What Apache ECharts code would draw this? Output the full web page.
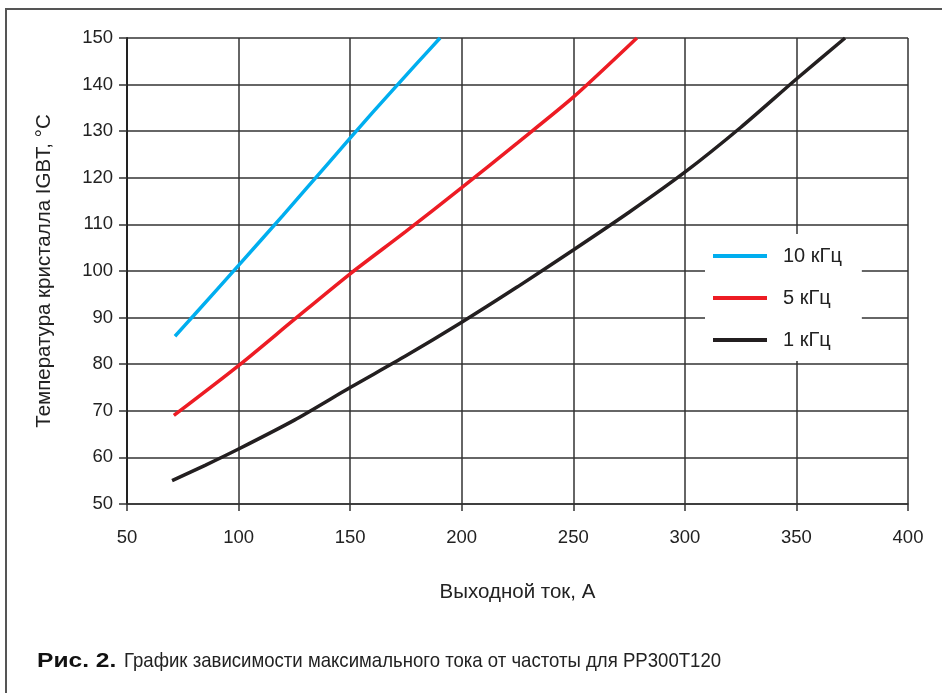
<!DOCTYPE html>
<html>
<head>
<meta charset="utf-8">
<script src="https://cdn.jsdelivr.net/npm/echarts@6/dist/echarts.min.js"></script>
<style>
html,body{margin:0;padding:0;background:#fff;}
#chart{width:942px;height:693px;}
</style>
</head>
<body>
<div id="chart"></div>
<script>
// Data
const seriesNames = ['10 кГц', '5 кГц', '1 кГц'];
const blue10kHz = [[71.5,86],[80,90.5],[100,101.2],[120,112],[140,123],[160,134],[180,144.6],[190.3,150]];
const red5kHz = [[71,69],[100,79.7],[125,89.6],[150,99.4],[175,108.5],[200,117.9],[225,127.5],[250,137.3],[278.5,150]];
const black1kHz = [[70.2,55],[85,58.3],[100,61.8],[125,68],[150,75],[175,81.8],[200,89],[225,96.6],[250,104.5],[275,112.6],[300,121.2],[325,130.8],[350,141.2],[371.8,150]];
const xTicks = {min:50, max:400, interval:50};
const yTicks = {min:50, max:150, interval:10};
const xTitle = 'Выходной ток, А';
const yTitle = 'Температура кристалла IGBT, °C';
const captionBold = 'Рис. 2.';
const captionText = 'График зависимости максимального тока от частоты для PP300T120';

const colors = ['#00aeef', '#ed1c24', '#231f20'];
const gridLine = {color:'#333', width:1.5};
const chart = echarts.init(document.getElementById('chart'), null, {renderer:'canvas'});
const font = 'Liberation Sans, Arial, sans-serif';

chart.setOption({
  animation:false,
  backgroundColor:'#fff',
  grid:{left:127, right:34, top:38, bottom:189, containLabel:false},
  xAxis:{
    type:'value', min:xTicks.min, max:xTicks.max, interval:xTicks.interval,
    axisLine:{show:true, lineStyle:gridLine},
    axisTick:{show:true, inside:false, length:7, lineStyle:gridLine},
    splitLine:{show:true, lineStyle:gridLine},
    axisLabel:{color:'#222', fontSize:18.5, fontFamily:font, margin:24},
    name:xTitle, nameLocation:'middle', nameGap:78,
    nameTextStyle:{color:'#222', fontSize:20.5, fontFamily:font}
  },
  yAxis:{
    type:'value', min:yTicks.min, max:yTicks.max, interval:yTicks.interval,
    axisLine:{show:true, lineStyle:{color:'#222', width:2}},
    axisTick:{show:true, inside:false, length:8, lineStyle:gridLine},
    splitLine:{show:true, lineStyle:gridLine},
    axisLabel:{color:'#222', fontSize:18.5, fontFamily:font, margin:14},
    name:yTitle, nameLocation:'middle', nameGap:72, nameRotate:90,
    nameTextStyle:{color:'#222', fontSize:20.5, fontFamily:font}
  },
  legend:{
    orient:'vertical', left:705, top:234,
    backgroundColor:'#fff',
    padding:[11,20,10,8],
    itemWidth:54, itemHeight:4, itemGap:20,
    icon:'rect',
    textStyle:{color:'#222', fontSize:20, fontFamily:font, lineHeight:22, padding:[0,0,0,11]},
    data:seriesNames
  },
  series:[
    {name:seriesNames[0], type:'line', data:blue10kHz, smooth:0.25, showSymbol:false, lineStyle:{width:3.5, color:colors[0]}, itemStyle:{color:colors[0]}},
    {name:seriesNames[1], type:'line', data:red5kHz, smooth:0.25, showSymbol:false, lineStyle:{width:3.5, color:colors[1]}, itemStyle:{color:colors[1]}},
    {name:seriesNames[2], type:'line', data:black1kHz, smooth:0.25, showSymbol:false, lineStyle:{width:3.5, color:colors[2]}, itemStyle:{color:colors[2]}}
  ],
  graphic:[
    {type:'polyline', shape:{points:[[6,693],[6,9],[942,9]]}, style:{stroke:'#555', lineWidth:2, fill:null}},
    {type:'text', x:37, y:651, scaleX:1.17, style:{text:captionBold, fill:'#111', font:'bold 21px "Liberation Sans", Arial'}},
    {type:'text', x:124, y:651, scaleX:0.885, style:{text:captionText, fill:'#222', font:'21px "Liberation Sans", Arial'}}
  ]
});
</script>
</body>
</html>
